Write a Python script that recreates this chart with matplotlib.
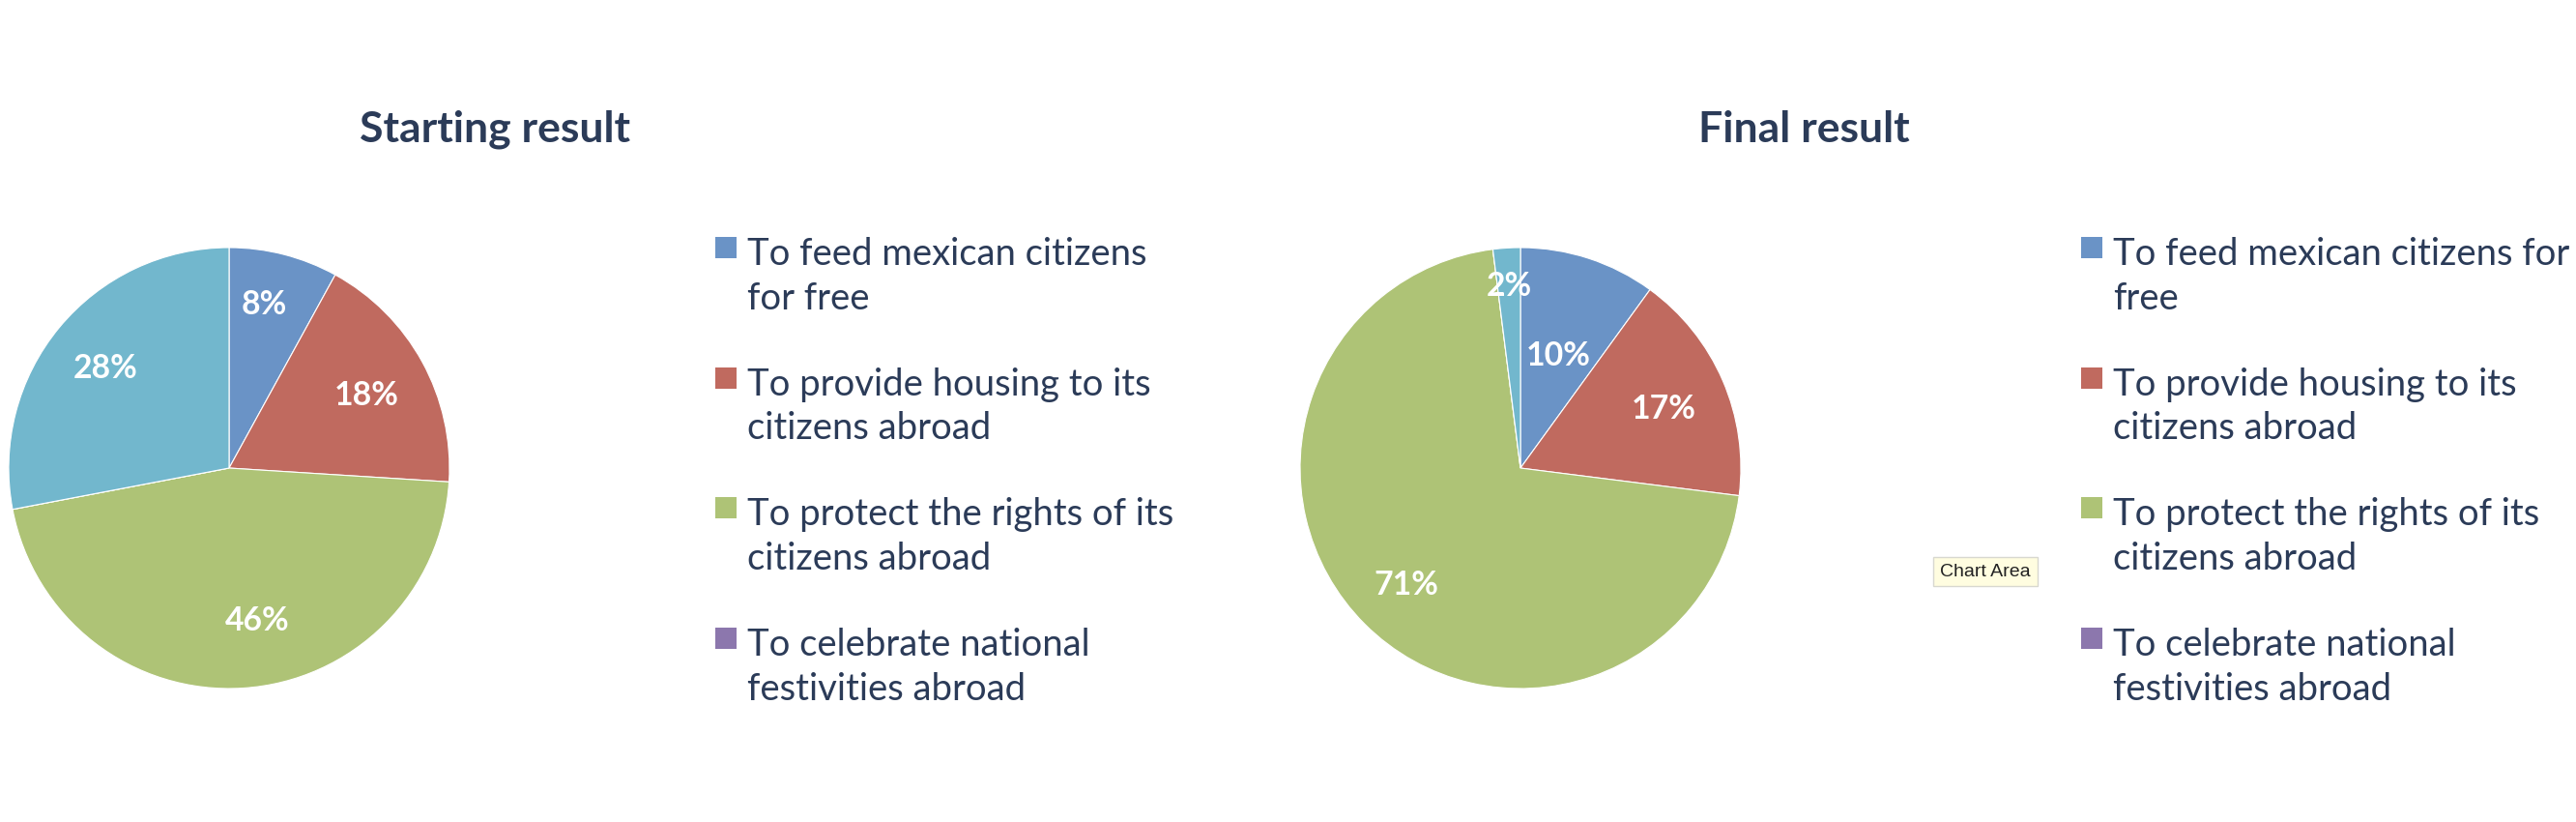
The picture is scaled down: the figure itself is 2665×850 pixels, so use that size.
import matplotlib
matplotlib.use("Agg")
import numpy as np
import matplotlib.pyplot as plt
from matplotlib.patches import Rectangle

plt.rcParams['font.family'] = ['Lato', 'DejaVu Sans']

# data
categories = ["To feed mexican citizens for free",
              "To provide housing to its citizens abroad",
              "To protect the rights of its citizens abroad",
              "To celebrate national festivities abroad"]
left_legend = ["To feed mexican citizens\nfor free",
               "To provide housing to its\ncitizens abroad",
               "To protect the rights of its\ncitizens abroad",
               "To celebrate national\nfestivities abroad"]
right_legend = ["To feed mexican citizens for\nfree",
                "To provide housing to its\ncitizens abroad",
                "To protect the rights of its\ncitizens abroad",
                "To celebrate national\nfestivities abroad"]
# 5th slice (cyan) is not listed in the legend
start_values = [8, 18, 46, 0, 28]
final_values = [10, 17, 71, 0, 2]
colors = ["#6A93C6", "#C06A5F", "#AEC376", "#8C77AD", "#72B7CD"]

TEXT = "#2B3B58"
W, H = 2665, 850

fig = plt.figure(figsize=(W / 100, H / 100), dpi=100)
renderer = fig.canvas.get_renderer()


def px(x, y):
    return x / W, 1 - y / H


def fit_size(s, target, weight="normal", base=20.0):
    # font size so that string s is about target px wide (Calibri stand-in)
    t = fig.text(0, 0, s, fontsize=base, fontweight=weight)
    w = t.get_window_extent(renderer).width
    t.remove()
    return base * target / w


legend_fs = fit_size("To feed mexican citizens", 414)
title_fs = fit_size("Starting result", 280, "bold")
label_fs = fit_size("18%", 67, "bold")


def draw_pie(cx, cy, r, values, dists, shifts):
    ax = fig.add_axes([(cx - r) / W, (H - cy - r) / H, 2 * r / W, 2 * r / H])
    wedges, _, autotexts = ax.pie(
        values, colors=colors, startangle=90, counterclock=False,
        autopct=lambda p: f"{p:.0f}%" if p > 0.5 else "",
        pctdistance=0.72,
        wedgeprops=dict(edgecolor="white", linewidth=0.8),
        textprops=dict(color="white", fontsize=label_fs, fontweight="bold"))
    # move labels per slice the way the source chart placed them
    for w, t, d, s in zip(wedges, autotexts, dists, shifts):
        ang = np.deg2rad((w.theta1 + w.theta2) / 2 + s)
        t.set_position((d * np.cos(ang), d * np.sin(ang)))
        t.set_va("center_baseline")
    ax.set_xlim(-1, 1)
    ax.set_ylim(-1, 1)
    ax.set_aspect("equal")
    ax.axis("off")
    return ax


def draw_legend(x_sq, labels):
    pitch = 47
    ls = pitch / (legend_fs * 1.274)
    for i, lab in enumerate(labels):
        base = 273 + i * 134.5
        fig.patches.append(Rectangle(px(x_sq, base - 6), 22 / W, 22 / H,
                                     transform=fig.transFigure,
                                     facecolor=colors[i], edgecolor="none"))
        # baseline alignment is taken from the last line
        fig.text(*px(x_sq + 33, base + pitch), lab, color=TEXT,
                 fontsize=legend_fs, va="baseline", ha="left", linespacing=ls)


draw_pie(237, 484, 228, start_values,
         [0.77, 0.71, 0.69, 0.7, 0.73], [2.4, 0, 7, 0, 0])
draw_pie(1573, 484, 228, final_values,
         [0.55, 0.71, 0.73, 0.7, 0.84], [0, 0, 0, 0, 0])

fig.text(*px(512, 147), "Starting result", color=TEXT, fontsize=title_fs,
         fontweight="bold", ha="center", va="baseline")
fig.text(*px(1866, 147), "Final result", color=TEXT, fontsize=title_fs,
         fontweight="bold", ha="center", va="baseline")

draw_legend(740, left_legend)
draw_legend(2153, right_legend)

fig.text(*px(2054, 591), "Chart Area", color="#222222", fontsize=14,
         family="Liberation Sans", ha="center", va="center",
         bbox=dict(boxstyle="square,pad=0.35", facecolor="#FFFDE0",
                   edgecolor="#D8D8D0", linewidth=1))

fig.savefig("out.png", dpi=100)
